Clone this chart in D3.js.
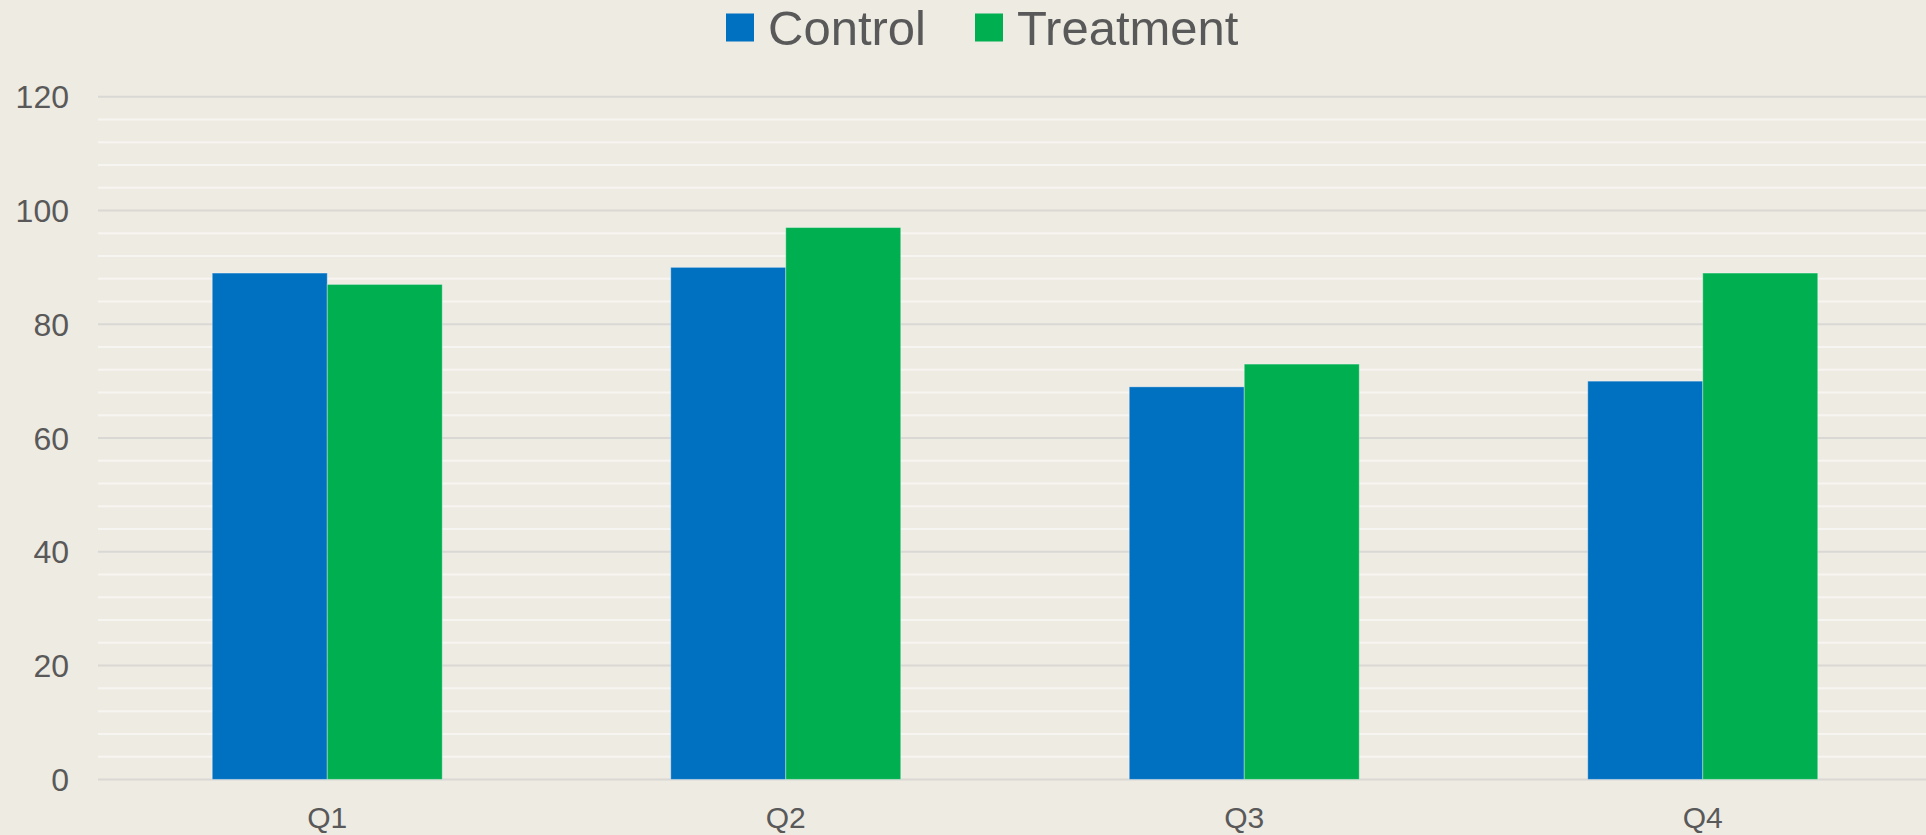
<!DOCTYPE html>
<html>
<head>
<meta charset="utf-8">
<script src="https://cdn.jsdelivr.net/npm/d3@7"></script>
<style>
  html, body { margin: 0; padding: 0; background: #eeebe3; }
  svg { display: block; font-family: "Liberation Sans", Arial, sans-serif; }
</style>
</head>
<body>
<svg width="1926" height="835"></svg>
<script>
// chart data
const quarters = ["Q1", "Q2", "Q3", "Q4"]
const seriesNames = ["Control", "Treatment"]
const control = [89, 90, 69, 70]
const treatment = [87, 97, 73, 89]
const yTicks = [0, 20, 40, 60, 80, 100, 120]
const colors = ["#0070c0", "#00b050"]

// plot area (the band scale runs a little past the right edge, like the source)
const plotLeft = 98, plotRight = 1932, plotTop = 96.7, plotBottom = 779.4

const svg = d3.select("svg")

const x = d3.scaleBand()
  .domain(quarters)
  .range([plotLeft, plotRight])

const y = d3.scaleLinear()
  .domain([0, 120])
  .range([plotBottom, plotTop])

// minor gridlines every 4 units
const minor = d3.range(0, 121, 4).filter(v => v % 20 !== 0)
svg.append("g")
  .selectAll("line")
  .data(minor)
  .join("line")
  .attr("x1", plotLeft).attr("x2", plotRight)
  .attr("y1", d => y(d)).attr("y2", d => y(d))
  .attr("stroke", "#f7f5f1")
  .attr("stroke-width", 2)

// major gridlines
svg.append("g")
  .selectAll("line")
  .data(yTicks)
  .join("line")
  .attr("x1", plotLeft).attr("x2", plotRight)
  .attr("y1", d => y(d)).attr("y2", d => y(d))
  .attr("stroke", "#d9d8d4")
  .attr("stroke-width", 2)

// y tick labels
svg.append("g")
  .selectAll("text")
  .data(yTicks)
  .join("text")
  .attr("x", 69)
  .attr("y", d => y(d))
  .attr("dy", "0.36em")
  .attr("text-anchor", "end")
  .attr("fill", "#595959")
  .style("font-size", "32px")
  .text(d => d)

// bars
const barW = 115
const rows = quarters.map((q, i) => ({q: q, vals: [control[i], treatment[i]]}))
const groups = svg.append("g")
  .selectAll("g")
  .data(rows)
  .join("g")
  .attr("transform", d => "translate(" + (x(d.q) + x.bandwidth() / 2) + ",0)")

groups.selectAll("rect")
  .data(d => d.vals.map((v, j) => ({v: v, j: j})))
  .join("rect")
  .attr("x", d => (d.j - 1) * barW)
  .attr("y", d => y(d.v))
  .attr("width", barW)
  .attr("height", d => y(0) - y(d.v))
  .attr("fill", d => colors[d.j])
  .attr("stroke", "rgba(255,255,255,0.35)")
  .attr("stroke-width", 1)

// x labels
svg.append("g")
  .selectAll("text")
  .data(quarters)
  .join("text")
  .attr("x", d => x(d) + x.bandwidth() / 2)
  .attr("y", 828)
  .attr("text-anchor", "middle")
  .attr("fill", "#595959")
  .style("font-size", "30px")
  .text(d => d)

// legend
const legendX = [726, 975]
const legend = svg.append("g")
  .selectAll("g")
  .data(seriesNames)
  .join("g")
  .attr("transform", (d, i) => "translate(" + legendX[i] + ",0)")
legend.append("rect")
  .attr("x", 0).attr("y", 13.5)
  .attr("width", 28).attr("height", 28)
  .attr("fill", (d, i) => colors[i])
legend.append("text")
  .attr("x", 42)
  .attr("y", 45)
  .attr("fill", "#595959")
  .style("font-size", "49px")
  .text(d => d)
</script>
</body>
</html>
